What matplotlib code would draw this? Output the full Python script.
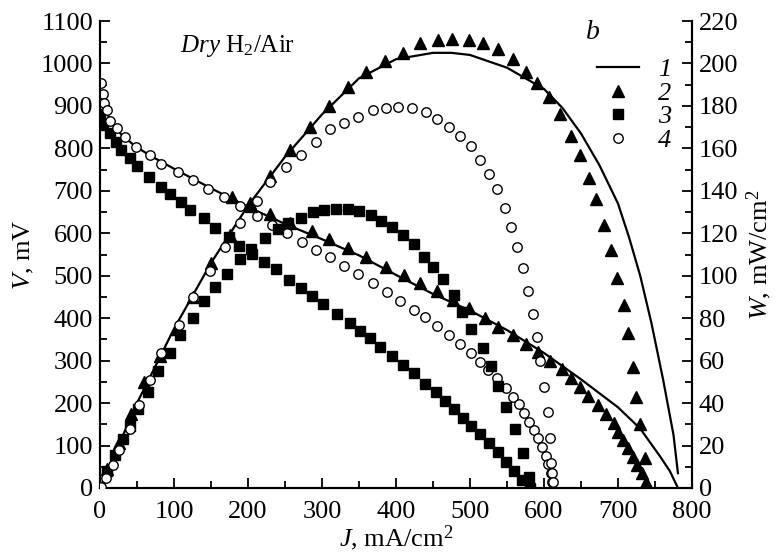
import numpy as np
import matplotlib
matplotlib.use('Agg')
import matplotlib.pyplot as plt
from matplotlib.ticker import MultipleLocator
from matplotlib.lines import Line2D

plt.rcParams['font.family'] = ['Liberation Serif', 'DejaVu Serif']
plt.rcParams['mathtext.fontset'] = 'custom'
plt.rcParams['mathtext.rm'] = 'Liberation Serif'
plt.rcParams['mathtext.it'] = 'Liberation Serif:italic'

# 1 - model curves (solid line)
fit_J_V = [0, 5, 15, 30, 50, 75, 100, 150, 200, 250, 300, 350, 400, 450,
           500, 550, 600, 650, 700, 730, 757, 770, 781]
fit_V = [935, 900, 862, 830, 802, 776, 752, 706, 662, 622, 586, 548, 502,
         457, 418, 372, 318, 256, 190, 140, 74, 40, 0]
fit_J_W = [0, 50, 100, 150, 200, 250, 300, 350, 400, 450, 475, 500, 550,
           600, 625, 650, 675, 700, 715, 730, 745, 761, 775, 781]
fit_W = [0, 40, 75, 106, 133, 156, 176, 193, 202, 205, 205, 204, 198, 188,
         179, 167, 152, 134, 118, 100, 78, 51, 25, 7]

# 2 - triangles
tri_J_V = [178, 203, 230, 257, 287, 309, 335, 360, 386, 411, 432, 456, 477,
           498, 520, 538, 558, 576, 592, 608, 624, 636, 649, 660, 673, 684,
           694, 700, 707, 714, 720, 726, 733, 738]
tri_V = [686, 671, 645, 625, 605, 587, 565, 544, 521, 502, 483, 464, 443,
         423, 401, 380, 360, 339, 320, 299, 280, 259, 238, 217, 196, 174,
         153, 132, 113, 94, 73, 54, 35, 14]
tri_J_W = [10, 25, 42, 60, 81, 104, 125, 150, 176, 204, 230, 257, 284, 310,
           335, 360, 385, 410, 432, 457, 476, 498, 518, 538, 558, 576, 591,
           607, 622, 636, 649, 661, 670, 681, 690, 699, 708, 714, 720, 725,
           730, 737]
tri_W = [9, 21, 35, 50, 62, 75, 90, 106, 119, 133, 147, 159, 170, 180, 189,
         196, 201, 205, 209.6, 211, 211.5, 211, 209.6, 207, 202, 196, 191,
         184, 176, 166, 157, 146, 136, 124, 112, 99, 86, 73, 57, 43, 30, 14]

# 3 - squares
sq_J_V = [0, 4, 14, 22, 29, 40, 50, 66, 82, 94, 109, 122, 140, 156, 174,
          188, 205, 221, 238, 255, 271, 287, 302, 320, 338, 351, 365, 379,
          395, 410, 424, 439, 454, 466, 478, 491, 502, 514, 526, 538, 548,
          560, 570, 581]
sq_V = [881, 855, 836, 816, 796, 777, 758, 732, 710, 693, 674, 654, 635,
        613, 592, 570, 552, 532, 515, 490, 472, 452, 433, 410, 389, 370, 353,
        333, 311, 290, 271, 245, 226, 205, 186, 165, 146, 127, 106, 85, 61,
        40, 19, 0]
sq_J_W = [10, 20, 31, 40, 52, 65, 79, 94, 108, 125, 140, 156, 172, 189, 204,
          223, 240, 254, 271, 288, 303, 319, 335, 350, 366, 380, 395, 409,
          424, 438, 450, 463, 478, 489, 502, 517, 528, 538, 549, 561, 571, 580]
sq_W = [8, 15.5, 23, 29, 37, 45, 55, 63.5, 72, 80, 88, 94.7, 101, 108, 112.6,
        118, 122, 125, 127, 130, 131, 131.4, 131.4, 130.5, 128.6, 126, 123,
        119, 115, 109, 104, 98.5, 91, 83, 75, 66, 57.5, 48, 38, 28, 16.5, 5]

# 4 - open circles
circ_J_V = [1, 4, 6, 9, 14, 23, 34, 49, 67, 83, 106, 125, 146, 168, 189, 212,
            233, 253, 273, 292, 311, 330, 349, 369, 388, 405, 424, 439, 455,
            472, 487, 501, 513, 524, 536, 549, 558, 566, 573, 580, 586, 592,
            597, 603, 606, 609, 611]
circ_V = [954, 927, 906, 890, 865, 847, 826, 804, 785, 763, 745, 725, 704,
          685, 664, 641, 620, 600, 580, 561, 543, 523, 505, 483, 462, 440,
          419, 402, 382, 360, 339, 318, 297, 278, 259, 236, 215, 198, 177,
          156, 137, 118, 97, 75, 56, 35, 14]
circ_J_W = [2, 8, 17, 25, 40, 53, 68, 83, 107, 125, 148, 169, 189, 212, 230,
            251, 271, 292, 311, 330, 349, 369, 386, 403, 421, 441, 456, 472,
            486, 501, 514, 526, 537, 547, 556, 563, 572, 579, 585, 590, 595,
            600, 605, 608, 610, 611, 612]
circ_W = [0.5, 4.7, 11, 18, 28, 39, 51, 63.6, 77, 90, 102, 113.5, 125, 135,
          144, 151, 157, 163, 169, 172, 175, 178, 179, 179.5, 179, 177, 174,
          170, 166, 161, 154.5, 148, 141, 132, 123, 113.5, 103.6, 93, 82, 71,
          60, 47.6, 36, 23.6, 11.8, 7, 3]

legend_labels = ['1', '2', '3', '4']

fs = 19
fig = plt.figure(figsize=(7.81, 5.59), dpi=100)
ax = fig.add_axes([100 / 781, 1 - 488 / 559, 592 / 781, 467 / 559])
ax2 = ax.twinx()

tri_kw = dict(ls='none', marker='^', ms=8, color='black', zorder=3)
sq_kw = dict(ls='none', marker='s', ms=7, color='black', zorder=3)
circ_kw = dict(ls='none', marker='o', ms=6.8, mfc='white', mec='black',
               mew=1.0, zorder=4)

ax.plot(fit_J_V, fit_V, '-', color='black', lw=1.6, zorder=2)
ax.plot(tri_J_V, tri_V, **tri_kw)
ax.plot(sq_J_V, sq_V, **sq_kw)
ax.plot(circ_J_V, circ_V, **circ_kw)

ax2.plot(fit_J_W, fit_W, '-', color='black', lw=1.6, zorder=2)
ax2.plot(tri_J_W, tri_W, **tri_kw)
ax2.plot(sq_J_W, sq_W, **sq_kw)
ax2.plot(circ_J_W, circ_W, **circ_kw)

ax.set_xlim(0, 800)
ax.set_ylim(0, 1100)
ax2.set_ylim(0, 220)

for a in (ax, ax2):
    a.spines['top'].set_visible(False)
    for s in ('left', 'right', 'bottom'):
        a.spines[s].set_linewidth(1.5)
    a.tick_params(which='both', direction='in', width=1.3, labelsize=fs, pad=6)
    a.tick_params(which='major', length=7)
    a.tick_params(which='minor', length=5)

ax.xaxis.set_major_locator(MultipleLocator(100))
ax.xaxis.set_minor_locator(MultipleLocator(50))
ax.yaxis.set_major_locator(MultipleLocator(100))
ax.yaxis.set_minor_locator(MultipleLocator(50))
ax2.yaxis.set_major_locator(MultipleLocator(20))
ax2.yaxis.set_minor_locator(MultipleLocator(10))
ax.tick_params(axis='x', pad=9)
ax.tick_params(axis='y', pad=5)
ax2.tick_params(axis='y', pad=5)

ax.set_xlabel(r'$J$, mA/cm$^2$', fontsize=fs, labelpad=1)
ax.set_ylabel(r'$V$, mV', fontsize=fs, labelpad=3)
ax2.set_ylabel(r'$W$, mW/cm$^2$', fontsize=fs, labelpad=4)

ax.text(108, 1027, r'$Dry$ H$_2$/Air', fontsize=fs - 1, va='baseline',
        ha='left')
ax.text(666, 1072, 'b', fontsize=fs + 1, style='italic', ha='center',
        va='center')

handles = [Line2D([], [], color='black', lw=1.6),
           Line2D([], [], **tri_kw),
           Line2D([], [], **sq_kw),
           Line2D([], [], **circ_kw)]
ax.legend(handles, legend_labels, loc='upper left',
          bbox_to_anchor=((597 - 100) / 592, (488 - 58) / 467),
          frameon=False, borderpad=0, borderaxespad=0, handlelength=1.6,
          handletextpad=0.7, labelspacing=0.0,
          prop={'family': 'Liberation Serif', 'style': 'italic', 'size': fs})

fig.savefig('out.png', dpi=100)
